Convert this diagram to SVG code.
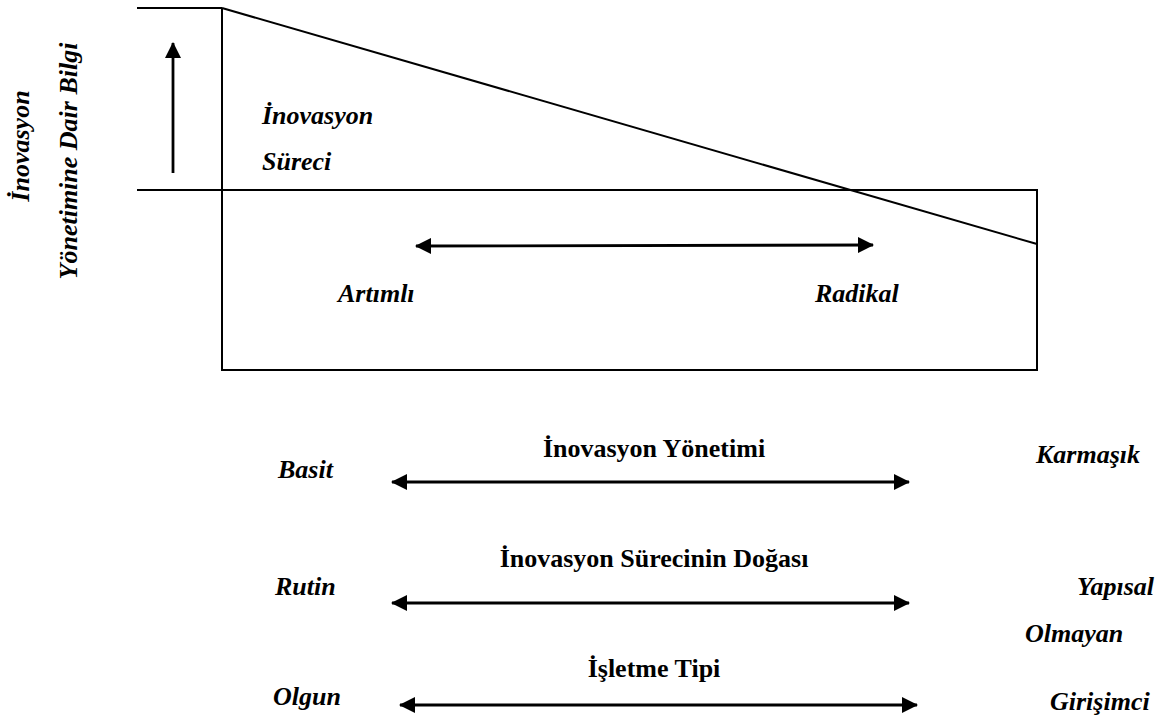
<svg xmlns="http://www.w3.org/2000/svg" width="1162" height="715" viewBox="0 0 1162 715">
  <style>
    .ln { stroke: #000; stroke-width: 2; fill: none; }
    .ar { stroke: #000; stroke-width: 2.8; fill: none; }
    .lbl { font-family: "Liberation Serif", "Times New Roman", serif; font-size: 26px; font-weight: bold; font-style: italic; fill: #000; }
    .ttl { font-family: "Liberation Serif", "Times New Roman", serif; font-size: 26px; font-weight: bold; fill: #000; text-anchor: middle; }
  </style>
  <defs>
    <marker id="head" viewBox="0 0 16 16" refX="15" refY="8" markerWidth="16" markerHeight="16" markerUnits="userSpaceOnUse" orient="auto-start-reverse">
      <path d="M0,0 L16,8 L0,16 Z" fill="#000"/>
    </marker>
  </defs>

  <rect width="1162" height="715" fill="#fff"/>

  <!-- frame: process box, axis lines and the falling knowledge curve -->
  <g id="frame">
    <line class="ln" x1="137" y1="8" x2="222" y2="8"/>
    <line class="ln" x1="137" y1="190" x2="222" y2="190"/>
    <rect class="ln" x="222" y="190" width="815" height="180"/>
    <line class="ln" x1="222" y1="8" x2="222" y2="190"/>
    <line class="ln" x1="222" y1="8" x2="1037" y2="244"/>
  </g>

  <!-- vertical axis title -->
  <g id="axis-label">
    <text class="lbl" text-anchor="middle" transform="translate(29,146) rotate(-90)">İnovasyon</text>
    <text class="lbl" text-anchor="middle" transform="translate(77,161) rotate(-90)">Yönetimine Dair Bilgi</text>
  </g>

  <g id="process-label">
    <rect x="243" y="81" width="172" height="108" fill="#fff"/>
    <text class="lbl" x="262" y="124">İnovasyon</text>
    <text class="lbl" x="262" y="170">Süreci</text>
  </g>

  <g id="range-labels">
    <text class="lbl" x="338" y="302">Artımlı</text>
    <text class="lbl" x="815" y="302">Radikal</text>
  </g>

  <g id="management">
    <text class="ttl" x="654" y="457">İnovasyon Yönetimi</text>
    <text class="lbl" x="278" y="478">Basit</text>
    <text class="lbl" x="1036" y="463">Karmaşık</text>
  </g>

  <g id="nature">
    <text class="ttl" x="654" y="567">İnovasyon Sürecinin Doğası</text>
    <text class="lbl" x="275" y="595">Rutin</text>
    <text class="lbl" x="1077" y="595">Yapısal</text>
    <text class="lbl" x="1025" y="642">Olmayan</text>
  </g>

  <g id="firm-type">
    <text class="ttl" x="654" y="677">İşletme Tipi</text>
    <text class="lbl" x="273" y="705">Olgun</text>
    <text class="lbl" x="1050" y="710">Girişimci</text>
  </g>

  <!-- arrows -->
  <g id="connectors">
    <line class="ar" x1="173" y1="173" x2="173" y2="43" marker-end="url(#head)"/>
    <line class="ar" x1="416" y1="246" x2="873" y2="245" marker-start="url(#head)" marker-end="url(#head)"/>
    <line class="ar" x1="392" y1="482" x2="909" y2="482" marker-start="url(#head)" marker-end="url(#head)"/>
    <line class="ar" x1="392" y1="603" x2="909" y2="603" marker-start="url(#head)" marker-end="url(#head)"/>
    <line class="ar" x1="400" y1="705" x2="917" y2="705" marker-start="url(#head)" marker-end="url(#head)"/>
  </g>
</svg>
